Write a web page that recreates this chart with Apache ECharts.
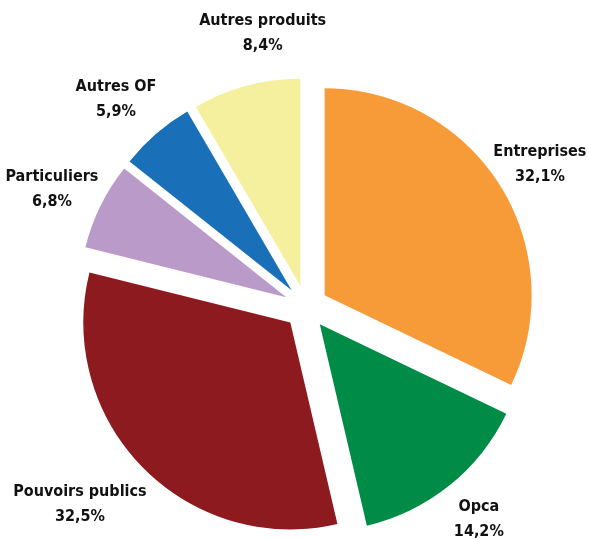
<!DOCTYPE html>
<html><head><meta charset="utf-8">
<script src="https://cdn.jsdelivr.net/npm/echarts@6/dist/echarts.min.js"></script>
<style>html,body{margin:0;padding:0;background:#fff}#c{width:589px;height:539px}</style>
</head><body><div id="c"></div>
<script>
const categories = ['Entreprises', 'Opca', 'Pouvoirs publics', 'Particuliers', 'Autres OF', 'Autres produits'];
const values = [32.1, 14.2, 32.5, 6.8, 5.9, 8.4];
const colors = ['#F79A38', '#008B47', '#8C1A1E', '#BA9AC8', '#1A70B8', '#F4F09E'];
// small label nudges (style only)
const labelNudge = [[-9, 7], [-8, -7], [-21, 0], [3, 6], [-1, 5], [35, -2]];

const chart = echarts.init(document.getElementById('c'), null, {renderer: 'canvas'});
chart.setOption({
  animation: false,
  backgroundColor: '#fff',
  series: [{
    type: 'pie',
    center: [306, 307],
    radius: [0, 207],
    startAngle: 90,
    clockwise: true,
    avoidLabelOverlap: false,
    selectedMode: 'multiple',
    selectedOffset: 22,
    emphasis: {disabled: true},
    data: categories.map((n, i) => ({name: n, value: values[i], selected: true, itemStyle: {color: colors[i]}})),
    label: {
      show: true,
      position: 'outside',
      overflow: 'none',
      formatter: p => p.name + '\n' + String(p.value).replace('.', ',') + '%',
      fontFamily: '"Liberation Sans Narrow", "DejaVu Sans Condensed", sans-serif',
      fontWeight: 'bold',
      fontSize: 16,
      lineHeight: 25,
      color: '#111'
    },
    labelLine: {show: false, length: 52, length2: 0},
    labelLayout: p => ({
      align: 'center',
      verticalAlign: 'middle',
      dx: labelNudge[p.dataIndex][0],
      dy: labelNudge[p.dataIndex][1]
    })
  }]
});
</script></body></html>
